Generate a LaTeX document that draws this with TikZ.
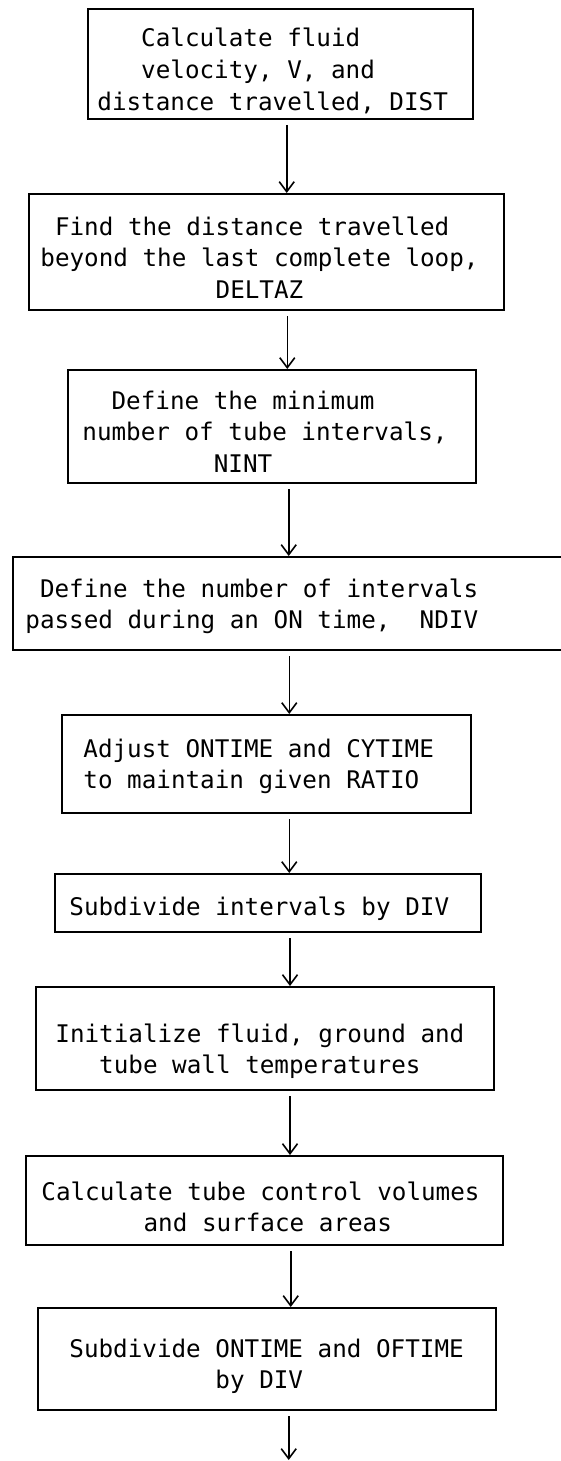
\documentclass[tikz,border=0pt]{standalone}
\usepackage{fontspec}
\usetikzlibrary{arrows.meta}
\newfontfamily\tw{DejaVu Sans Mono}

% one flowchart box from its corner coordinates (in drawing units)
\newcommand\flowbox[5]{%
  \node[box, minimum width={(#4-#2)*0.5pt}, minimum height={(#5-#3)*0.5pt}]
    (#1) at ({(#2+#4)/2},{(#3+#5)/2}) {};}

\begin{document}
\begin{tikzpicture}[x=0.5pt, y=-0.5pt,
  box/.style={draw=black, line width=1pt, inner sep=0pt, fill=none},
  txt/.style={inner sep=0pt, anchor=base west,
              font=\tw\fontsize{12.13pt}{15.85pt}\selectfont},
  arr/.style={draw=black, line width=0.8pt, shorten <=2.5pt,
              -{Straight Barb[length=5pt, width=7.5pt, line width=0.8pt]}}]

\useasboundingbox (0,0) rectangle (561,1461);

% boxes
\flowbox{b1}{88}{9}{473}{119}
\flowbox{b2}{29}{194}{504}{310}
\flowbox{b3}{68}{370}{476}{483}
\flowbox{b4}{13}{557}{590}{650}
\flowbox{b5}{62}{715}{471}{813}
\flowbox{b6}{55}{874}{481}{932}
\flowbox{b7}{36}{987}{494}{1090}
\flowbox{b8}{26}{1156}{503}{1245}
\flowbox{b9}{38}{1308}{496}{1410}

% box texts
\node[txt] (t1) at (97,46.7) {\begin{tabular}[t]{@{}l@{}}
  \phantom{xxx}Calculate fluid\\
  \phantom{xxx}velocity, V, and\\
  distance travelled, DIST\end{tabular}};
\node[txt] (t2) at (40,235) {\begin{tabular}[t]{@{}l@{}}
  \phantom{x}Find the distance travelled\\
  beyond the last complete loop,\\
  \phantom{xxxxxxxxxxxx}DELTAZ\end{tabular}};
\node[txt] (t3) at (82,409) {\begin{tabular}[t]{@{}l@{}}
  \phantom{xx}Define the minimum\\
  number of tube intervals,\\
  \phantom{xxxxxxxxx}NINT\end{tabular}};
\node[txt] (t4) at (25,597) {\begin{tabular}[t]{@{}l@{}}
  \phantom{x}Define the number of intervals\\
  passed during an ON time,\phantom{xx}NDIV\end{tabular}};
\node[txt] (t5) at (83,757) {\begin{tabular}[t]{@{}l@{}}
  Adjust ONTIME and CYTIME\\
  to maintain given RATIO\end{tabular}};
\node[txt] (t6) at (69,915) {Subdivide intervals by DIV};
\node[txt] (t7) at (55,1042) {\begin{tabular}[t]{@{}l@{}}
  Initialize fluid, ground and\\
  \phantom{xxx}tube wall temperatures\end{tabular}};
\node[txt] (t8) at (41,1200) {\begin{tabular}[t]{@{}l@{}}
  Calculate tube control volumes\\
  \phantom{xxxxxxx}and surface areas\end{tabular}};
\node[txt] (t9) at (69,1357) {\begin{tabular}[t]{@{}l@{}}
  Subdivide ONTIME and OFTIME\\
  \phantom{xxxxxxxxxx}by DIV\end{tabular}};

% vertical guide positions of the connectors
\coordinate (x1) at (286.7,0);
\coordinate (x2) at (287.3,0);
\coordinate (x3) at (288.7,0);
\coordinate (x4) at (289.3,0);
\coordinate (x5) at (289.3,0);
\coordinate (x6) at (290,0);
\coordinate (x7) at (290,0);
\coordinate (x8) at (290.7,0);
\coordinate (x9) at (288.7,0);
\coordinate (out) at (288.7,1460);

% connectors
\draw[arr] (b1.south -| x1) -- (b2.north -| x1);
\draw[arr] (b2.south -| x2) -- (b3.north -| x2);
\draw[arr] (b3.south -| x3) -- (b4.north -| x3);
\draw[arr] (b4.south -| x4) -- (b5.north -| x4);
\draw[arr] (b5.south -| x5) -- (b6.north -| x5);
\draw[arr] (b6.south -| x6) -- (b7.north -| x6);
\draw[arr] (b7.south -| x7) -- (b8.north -| x7);
\draw[arr] (b8.south -| x8) -- (b9.north -| x8);
\draw[arr] (b9.south -| x9) -- (out);

\end{tikzpicture}
\end{document}
